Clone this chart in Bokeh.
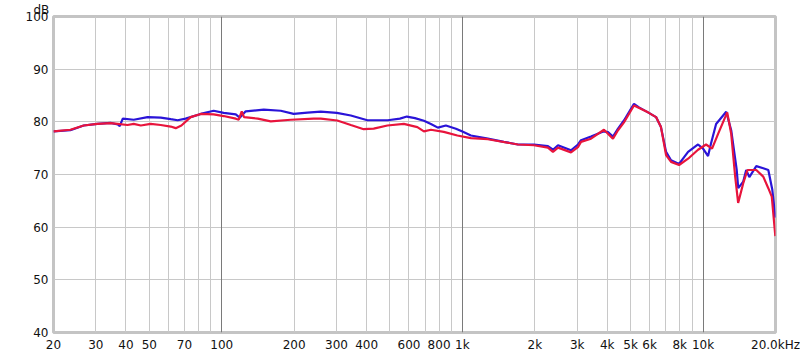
from bokeh.plotting import figure
from bokeh.models import FixedTicker, Grid, Range1d
from bokeh.embed import file_html
from bokeh.resources import INLINE

# Series 1 (blue)
blue_freq = [20, 23.5, 26.7, 30.4, 34.5, 37.0, 37.7, 38.8, 43.1, 49.2, 55.8, 61.4, 65.6, 70.8,
             81.8, 92.6, 101.9, 114.4, 118.8, 125.8, 149.5, 175.9, 199, 227, 258, 300.8, 343.9,
             403, 458, 490, 550, 588, 635, 692, 740, 791, 854, 940, 995, 1085, 1276, 1488, 1701,
             1983, 2267, 2379, 2496, 2827, 3022, 3111, 3423, 3875, 4027, 4224, 4433, 4692, 5164,
             5418, 5905, 6378, 6685, 7020, 7363, 7950, 8665, 9532, 10000, 10490, 10790, 11330,
             12480, 13090, 13800, 14000, 14690, 15110, 15570, 16640, 17790, 18670, 19400, 19970]
blue_db = [78.2, 78.4, 79.3, 79.6, 79.8, 79.5, 79.2, 80.6, 80.4, 80.9, 80.8, 80.5, 80.3, 80.6,
           81.5, 82.1, 81.7, 81.4, 80.8, 82.0, 82.3, 82.1, 81.5, 81.75, 81.95, 81.7, 81.2,
           80.3, 80.3, 80.3, 80.6, 81.0, 80.7, 80.2, 79.6, 78.9, 79.3, 78.7, 78.2, 77.4, 76.8, 76.2, 75.7,
           75.7, 75.4, 74.7, 75.55, 74.6, 75.7, 76.5, 77.2, 78.2, 78.05, 77.2, 78.7, 80.25, 83.4,
           82.75, 81.8, 80.9, 79.0, 74.3, 72.7, 72.0, 74.3, 75.7, 74.9, 73.5, 75.9, 79.6,
           81.9, 78.4, 70.85, 67.4, 68.65, 70.85, 69.5, 71.6, 71.2, 70.85, 67.1, 61.8]

# Series 2 (red)
red_freq = [20, 23.5, 26.7, 30.4, 34.5, 37.0, 40.6, 43.1, 46.1, 50.7, 55.8, 61.4, 64.4, 68.0,
            74.3, 81.8, 92.6, 101.9, 114.4, 117.7, 121.1, 123.8, 141.2, 159.9, 193.6, 241, 258,
            302, 343.9, 389, 428, 488, 571, 650, 692, 740, 837, 953, 1085, 1276, 1701, 1983,
            2267, 2379, 2496, 2827, 3022, 3111, 3423, 3875, 4224, 4433, 4692, 5164, 5905, 6378,
            6685, 7020, 7363, 7950, 8665, 9532, 10290, 10900, 11560, 12600, 13090, 13600, 13990,
            14690, 15300, 16640, 17790, 18670, 19300, 19970]
red_db = [78.2, 78.5, 79.3, 79.6, 79.75, 79.6, 79.4, 79.6, 79.3, 79.6, 79.4, 79.1, 78.8, 79.3,
          80.9, 81.5, 81.4, 81.1, 80.6, 80.4, 82.0, 80.9, 80.6, 80.1, 80.4, 80.6, 80.6,
          80.25, 79.4, 78.6, 78.7, 79.3, 79.6, 79.0, 78.2, 78.5, 78.1, 77.4, 76.9, 76.7, 75.7, 75.55,
          75.1, 74.3, 75.1, 74.2, 75.2, 76.2, 76.8, 78.5, 76.8, 78.4, 79.9, 83.1, 81.8, 80.9,
          79.0, 73.7, 72.4, 71.8, 73.0, 74.7, 75.7, 74.9, 77.75, 81.8, 77.75, 69.6, 64.6,
          68.35, 70.85, 70.85, 69.6, 67.4, 65.8, 58.3]

x_tick_values = [20, 30, 40, 50, 70, 100, 200, 300, 400, 600, 800, 1000, 2000, 3000, 4000,
                 5000, 6000, 8000, 10000, 20000]
x_tick_labels = ["20", "30", "40", "50", "70", "100", "200", "300", "400", "600", "800", "1k",
                 "2k", "3k", "4k", "5k", "6k", "8k", "10k", "20.0kHz"]
y_tick_values = [40, 50, 60, 70, 80, 90, 100]
decades = [100, 1000, 10000]

minor_grid = []
for dec in [10, 100, 1000, 10000]:
    for k in range(1, 10):
        v = k * dec
        if 20 <= v <= 20000:
            minor_grid.append(v)

FONT = "DejaVu Sans"

p = figure(width=800, height=354, x_axis_type="log",
           x_range=Range1d(20, 20000), y_range=Range1d(40, 100),
           output_backend="svg", toolbar_location=None,
           min_border_left=53, min_border_right=25, min_border_top=15, min_border_bottom=20,
           background_fill_color="white", border_fill_color="white",
           title="dB")

p.title.align = "left"
p.title.offset = -20
p.title.standoff = 0
p.title.text_font = FONT
p.title.text_font_size = "12px"
p.title.text_font_style = "normal"
p.title.text_color = "#111111"
p.title.vertical_align = "bottom"

p.outline_line_color = "#c4c4c4"
p.outline_line_width = 3

p.xgrid.ticker = FixedTicker(ticks=minor_grid)
p.xgrid.grid_line_color = "#c8c8c8"
p.ygrid.ticker = FixedTicker(ticks=y_tick_values)
p.ygrid.grid_line_color = "#c8c8c8"

dec_grid = Grid(dimension=0, ticker=FixedTicker(ticks=decades), grid_line_color="#7a7a7a")
p.add_layout(dec_grid)

xa = p.xaxis[0]
xa.ticker = FixedTicker(ticks=x_tick_values, minor_ticks=[])
xa.major_label_overrides = {v: s for v, s in zip(x_tick_values, x_tick_labels)}
ya = p.yaxis[0]
ya.ticker = FixedTicker(ticks=y_tick_values, minor_ticks=[])

for ax in (xa, ya):
    ax.axis_line_color = None
    ax.major_tick_line_color = None
    ax.minor_tick_line_color = None
    ax.major_tick_out = 0
    ax.major_tick_in = 0
    ax.minor_tick_out = 0
    ax.major_label_text_font = FONT
    ax.major_label_text_font_size = "12px"
    ax.major_label_text_color = "#111111"
xa.major_label_standoff = 5
ya.major_label_standoff = 5

p.line(blue_freq, blue_db, line_color="#2a14d8", line_width=2.2)
p.line(red_freq, red_db, line_color="#e8143c", line_width=2.2)

open("out.html", "w").write(file_html(p, INLINE))
